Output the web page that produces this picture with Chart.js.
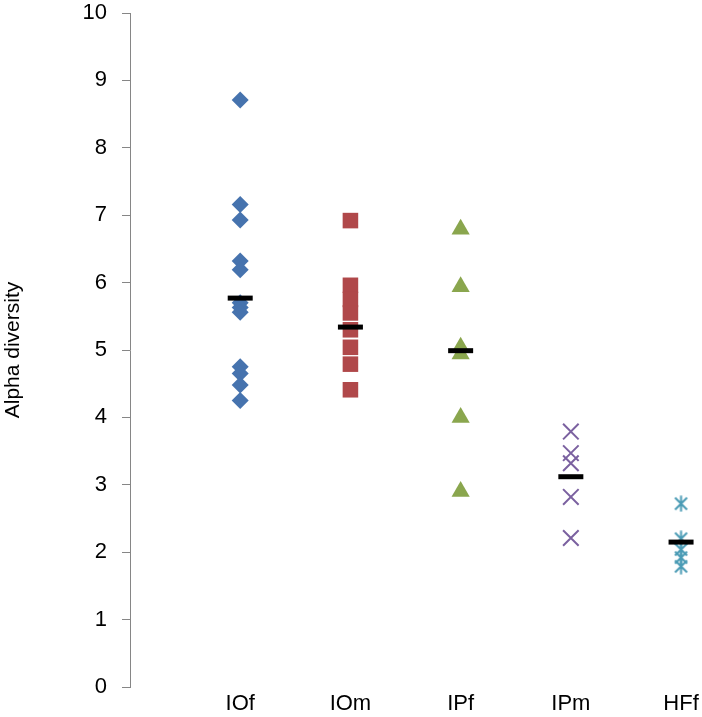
<!DOCTYPE html>
<html>
<head>
<meta charset="utf-8">
<script src="https://cdn.jsdelivr.net/npm/chart.js@4/dist/chart.umd.min.js"></script>
<style>
  html, body { margin: 0; padding: 0; background: #ffffff; }
  #wrap { width: 702px; height: 717px; position: relative; }
</style>
</head>
<body>
<div id="wrap"><canvas id="c" width="702" height="717"></canvas></div>
<script>
// ---- data ----
const categories = ["IOf", "IOm", "IPf", "IPm", "HFf"];
const valuesIOf = [8.71, 7.16, 6.93, 6.32, 6.19, 5.70, 5.63, 5.56, 4.75, 4.65, 4.48, 4.25];
const valuesIOm = [6.92, 5.96, 5.75, 5.55, 5.30, 5.04, 4.79, 4.41];
const valuesIPf = [6.79, 5.94, 5.04, 4.94, 4.00, 2.90];
const valuesIPm = [3.79, 3.47, 3.32, 2.82, 2.21];
const valuesHFf = [2.72, 2.20, 2.04, 1.92, 1.79];
const means = [5.77, 5.34, 4.99, 3.12, 2.15];
const yTicks = [0, 1, 2, 3, 4, 5, 6, 7, 8, 9, 10];
const yTitle = "Alpha diversity";

// ---- styles ----
const FONT = "'Liberation Sans', Arial, sans-serif";
const colors = ["#4673AE", "#B0484A", "#8AA64E", "#7B61A0", "#4A9BB5"];

// custom Excel-like star marker (X with vertical bar)
function starMarker(color) {
  const s = 17;
  const cv = document.createElement('canvas');
  cv.width = s; cv.height = s;
  const g = cv.getContext('2d');
  g.strokeStyle = color; g.lineWidth = 2; g.lineCap = 'butt';
  g.beginPath();
  g.moveTo(2.5, 2.5); g.lineTo(14.5, 14.5);
  g.moveTo(14.5, 2.5); g.lineTo(2.5, 14.5);
  g.moveTo(8.5, 0.5); g.lineTo(8.5, 16.5);
  g.stroke();
  return cv;
}

const toPts = (arr, idx) => arr.map(v => ({ x: idx + 1, y: v }));

const datasets = [
  {
    label: "Mean", data: means.map((m, i) => ({ x: i + 1, y: m })),
    pointStyle: 'line', pointRadius: 12.5, pointBorderWidth: 5,
    pointBorderColor: '#000000', pointBackgroundColor: '#000000'
  },
  {
    label: categories[0], data: toPts(valuesIOf, 0),
    pointStyle: 'rectRot', pointRadius: 8.5, pointBorderWidth: 0,
    pointBackgroundColor: colors[0], pointBorderColor: colors[0]
  },
  {
    label: categories[1], data: toPts(valuesIOm, 1),
    pointStyle: 'rect', pointRadius: 11, pointBorderWidth: 0,
    pointBackgroundColor: colors[1], pointBorderColor: colors[1]
  },
  {
    label: categories[2], data: toPts(valuesIPf, 2),
    pointStyle: 'triangle', pointRadius: 10.5, pointBorderWidth: 0,
    pointBackgroundColor: colors[2], pointBorderColor: colors[2]
  },
  {
    label: categories[3], data: toPts(valuesIPm, 3),
    pointStyle: 'crossRot', pointRadius: 11, pointBorderWidth: 2,
    pointBackgroundColor: colors[3], pointBorderColor: colors[3]
  },
  {
    label: categories[4], data: toPts(valuesHFf, 4),
    pointStyle: starMarker(colors[4]), pointRadius: 9, pointBorderWidth: 0,
    pointBackgroundColor: colors[4], pointBorderColor: colors[4]
  }
];

new Chart(document.getElementById('c'), {
  type: 'scatter',
  data: { datasets },
  options: {
    responsive: false,
    animation: false,
    events: [],
    layout: { autoPadding: false, padding: { top: 13, left: 0, right: 0, bottom: 0 } },
    plugins: { legend: { display: false }, tooltip: { enabled: false } },
    elements: { point: { hoverRadius: 0 } },
    scales: {
      x: {
        type: 'linear', min: 0, max: 5.19,
        grid: { display: false, drawTicks: false },
        border: { display: false },
        afterBuildTicks: s => { s.ticks = categories.map((c, i) => ({ value: i + 1 })); },
        afterFit: s => { s.height = 30; s.paddingLeft = 0; s.paddingRight = 0; },
        ticks: {
          autoSkip: false, maxRotation: 0, padding: 4,
          color: '#000000', font: { family: FONT, size: 22 },
          callback: (v) => categories[Math.round(v) - 1] || ''
        }
      },
      y: {
        type: 'linear', min: 0, max: 10,
        afterBuildTicks: s => { s.ticks = yTicks.map(v => ({ value: v })); },
        afterFit: s => { s.width = 130; s.paddingTop = 0; s.paddingBottom = 0; },
        grid: { display: true, drawOnChartArea: false, drawTicks: true, tickLength: 8, color: '#868686', lineWidth: 1 },
        border: { display: true, color: '#868686', width: 1 },
        ticks: { padding: 15, color: '#000000', font: { family: FONT, size: 22 } },
        title: { display: true, text: yTitle, color: '#000000', padding: { top: 1, bottom: 0 }, font: { family: FONT, size: 21 } }
      }
    }
  }
});
</script>
</body>
</html>
